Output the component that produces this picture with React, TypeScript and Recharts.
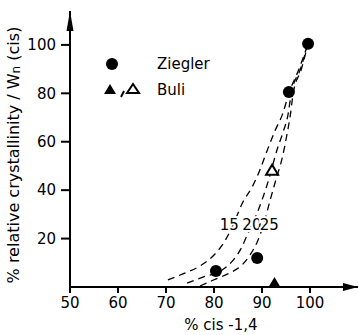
import React from 'react';
import { ComposedChart, Line, Scatter, XAxis, YAxis, ReferenceDot } from 'recharts';

const xTicks = [50, 60, 70, 80, 90, 100];
const yTicks = [20, 40, 60, 80, 100];

// Ziegler catalysts (filled circles)
const ziegler = [
  { x: 80.4, y: 6.6 },
  { x: 89.0, y: 12.0 },
  { x: 95.6, y: 80.5 },
  { x: 99.6, y: 100.5 },
];
// Buli (filled / open triangles)
const buliFilled = [{ x: 92.6, y: 0.8 }];
const buliOpen = [{ x: 92.1, y: 48.0 }];

// dashed theoretical curves
const curve15 = [
  { x: 70.4, y: 2.9 }, { x: 73.5, y: 5.4 }, { x: 77.1, y: 8.7 }, { x: 79.8, y: 12.8 },
  { x: 81.7, y: 17.3 }, { x: 83.5, y: 23.5 }, { x: 86.0, y: 35.0 }, { x: 88.0, y: 41.5 },
  { x: 89.5, y: 48.0 }, { x: 91.0, y: 56.0 }, { x: 92.7, y: 64.5 }, { x: 94.3, y: 71.5 },
  { x: 95.6, y: 80.0 }, { x: 97.8, y: 90.5 }, { x: 99.6, y: 100.5 },
];
const curve20 = [
  { x: 74.4, y: 1.6 }, { x: 77.7, y: 4.1 }, { x: 81.7, y: 7.0 }, { x: 84.0, y: 11.1 },
  { x: 85.8, y: 16.5 }, { x: 86.9, y: 21.4 }, { x: 88.0, y: 26.0 }, { x: 90.0, y: 35.9 },
  { x: 91.5, y: 45.0 }, { x: 93.1, y: 56.5 }, { x: 94.4, y: 64.0 }, { x: 95.4, y: 71.0 },
  { x: 96.1, y: 80.0 }, { x: 98.0, y: 90.0 }, { x: 99.6, y: 100.5 },
];
const curve25 = [
  { x: 77.1, y: 0.4 }, { x: 80.0, y: 3.0 }, { x: 83.3, y: 5.8 }, { x: 85.8, y: 9.0 },
  { x: 87.5, y: 13.2 }, { x: 89.0, y: 18.6 }, { x: 90.2, y: 25.0 }, { x: 91.7, y: 35.9 },
  { x: 93.0, y: 45.0 }, { x: 94.2, y: 53.2 }, { x: 95.2, y: 63.0 }, { x: 95.9, y: 71.0 },
  { x: 96.5, y: 80.0 }, { x: 98.2, y: 90.0 }, { x: 99.6, y: 100.5 },
];
const curveLabels = [
  { x: 83.2, y: 25.6, text: '15' },
  { x: 87.9, y: 25.6, text: '20' },
  { x: 91.5, y: 25.6, text: '25' },
];

const FONT = 'DejaVu Sans';

const circleShape = (p: any) => <circle cx={p.cx} cy={p.cy} r={6} fill="#000" />;
const triShape = (filled: boolean) => (p: any) => (
  <polygon
    points={`${p.cx},${p.cy - 6} ${p.cx - 6},${p.cy + 4} ${p.cx + 6},${p.cy + 4}`}
    fill={filled ? '#000' : '#fff'}
    stroke="#000"
    strokeWidth={2}
  />
);

const arrowRight = (p: any) => (
  <polygon points={`${p.cx},${p.cy} ${p.cx - 15},${p.cy - 4} ${p.cx - 15},${p.cy + 4}`} fill="#000" />
);
const arrowUp = (p: any) => (
  <polygon points={`${p.cx},${p.cy} ${p.cx - 3.5},${p.cy + 20} ${p.cx + 3.5},${p.cy + 20}`} fill="#000" />
);

const yLabel = (props: any) => {
  const vb = props.viewBox;
  const cx = vb.x + 13;
  const cy = vb.y + vb.height / 2 + 6;
  return (
    <text
      x={cx}
      y={cy}
      transform={`rotate(-90, ${cx}, ${cy})`}
      textAnchor="middle"
      dominantBaseline="central"
      fontFamily={FONT}
      fontSize={16}
      fill="#000"
    >
      % relative crystallinity / W<tspan fontSize={12} dy={3}>n</tspan>
      <tspan dy={-3}> (cis)</tspan>
    </text>
  );
};

const dashProps = {
  type: 'monotone' as const,
  dataKey: 'y',
  stroke: '#000',
  strokeWidth: 1.3,
  strokeDasharray: '7 5',
  dot: false,
  activeDot: false,
  isAnimationActive: false,
};

export default function App() {
  return (
    <div style={{ position: 'absolute', left: 0, top: 0, width: 359, height: 335, background: '#fff' }}>
      <ComposedChart width={359} height={335} margin={{ top: 11, right: 1, bottom: 0, left: 0 }}>
        <XAxis
          type="number"
          dataKey="x"
          domain={[50, 110]}
          ticks={xTicks}
          allowDataOverflow
          height={48}
          stroke="#000"
          strokeWidth={2}
          tickSize={6}
          tickMargin={4}
          tick={{ fill: '#000', fontSize: 15, fontFamily: FONT }}
          label={{
            value: '% cis -1,4',
            position: 'insideBottom',
            offset: 5,
            dx: 7,
            fill: '#000',
            fontSize: 15,
            fontFamily: FONT,
          }}
        />
        <YAxis
          type="number"
          dataKey="y"
          domain={[0, 114]}
          ticks={yTicks}
          allowDataOverflow
          width={70}
          stroke="#000"
          strokeWidth={2}
          tickSize={9}
          tickMargin={5}
          tick={{ fill: '#000', fontSize: 15, fontFamily: FONT }}
          label={{ content: yLabel }}
        />
        <Line data={curve15} {...dashProps} />
        <Line data={curve20} {...dashProps} />
        <Line data={curve25} {...dashProps} />
        {curveLabels.map((l) => (
          <ReferenceDot
            key={l.text}
            x={l.x}
            y={l.y}
            r={0}
            stroke="none"
            label={{
              value: l.text,
              position: 'center',
              fill: '#000',
              fontSize: 15,
              fontFamily: FONT,
              stroke: '#fff',
              strokeWidth: 4,
              paintOrder: 'stroke',
            }}
          />
        ))}
        <Scatter data={ziegler} shape={circleShape} isAnimationActive={false} />
        <Scatter data={buliFilled} shape={triShape(true)} isAnimationActive={false} />
        <Scatter data={buliOpen} shape={triShape(false)} isAnimationActive={false} />
        <ReferenceDot x={110} y={0} shape={arrowRight} ifOverflow="visible" />
        <ReferenceDot x={50} y={114} shape={arrowUp} ifOverflow="visible" />
      </ComposedChart>
      <div style={{ position: 'absolute', left: 100, top: 50, width: 120, height: 52 }}>
        <svg width={120} height={52}>
          <circle cx={12} cy={14} r={6} fill="#000" />
          <polygon points="10,34 4,44 16,44" fill="#000" />
          <path d="M24,41 L21,47" stroke="#000" strokeWidth={2} />
          <polygon points="33,34 27,43 39,43" fill="#fff" stroke="#000" strokeWidth={2} />
          <text x={57} y={14} dominantBaseline="central" fontFamily={FONT} fontSize={15} fill="#000">Ziegler</text>
          <text x={57} y={40} dominantBaseline="central" fontFamily={FONT} fontSize={15} fill="#000">Buli</text>
        </svg>
      </div>
    </div>
  );
}
